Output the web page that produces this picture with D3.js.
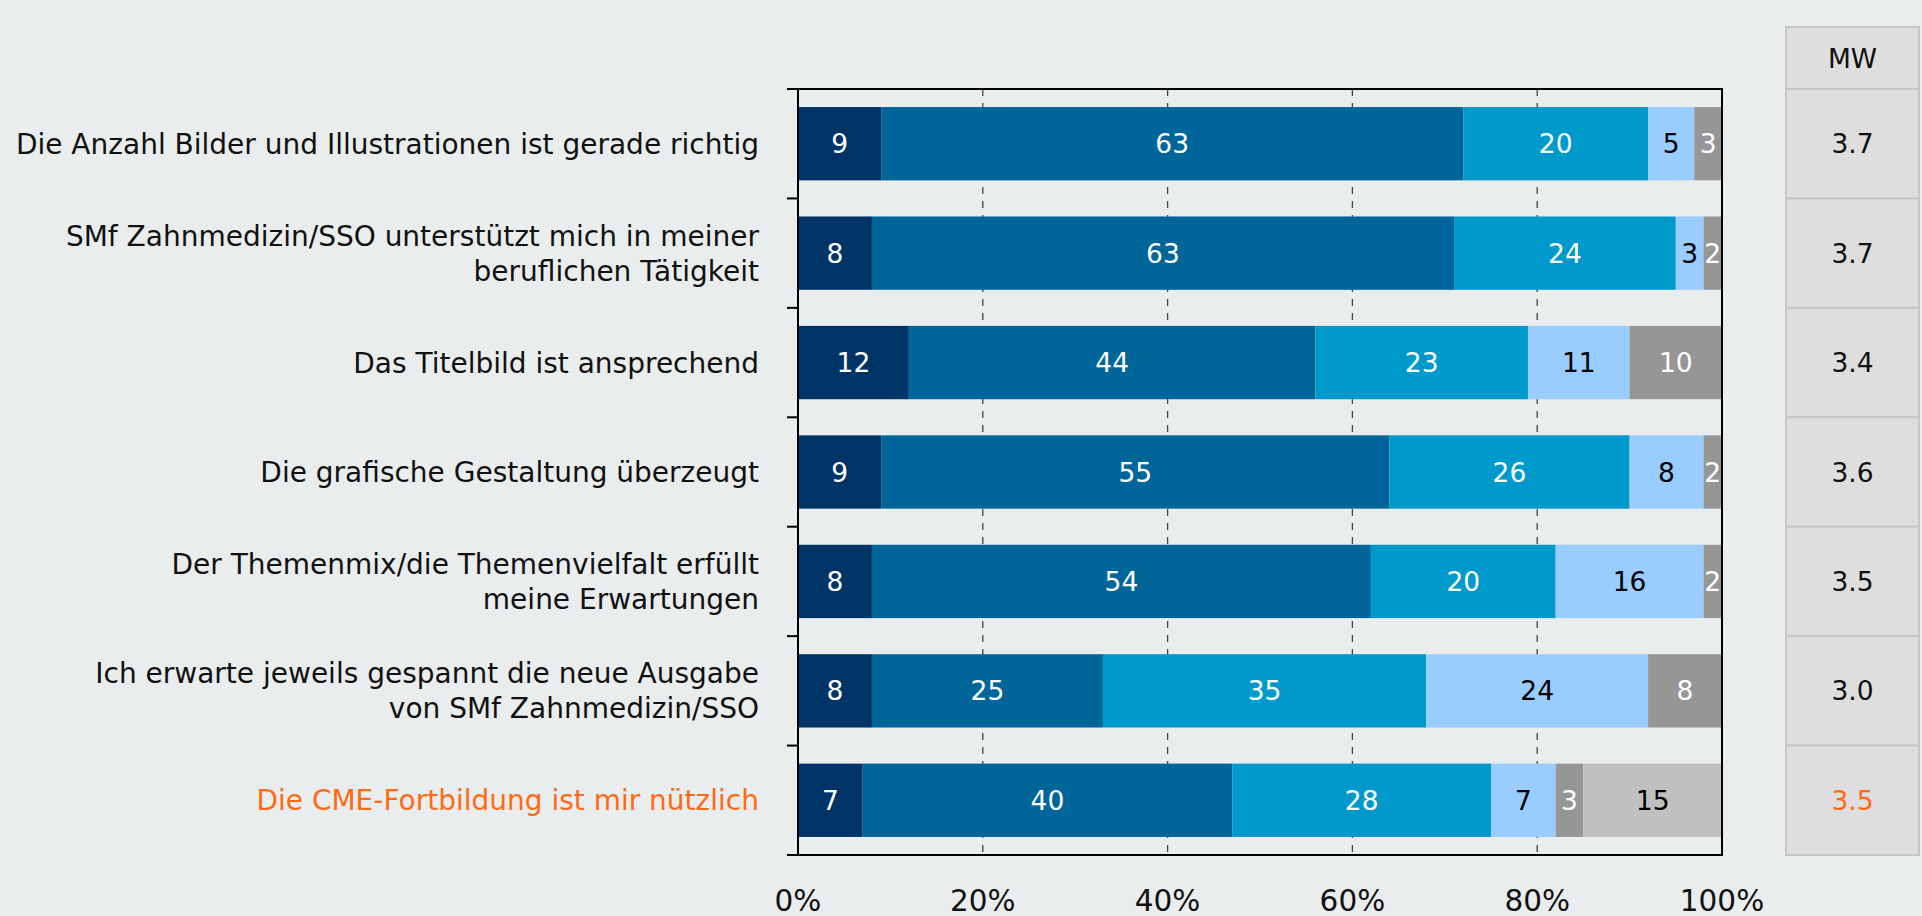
<!DOCTYPE html>
<html>
<head>
<meta charset="utf-8">
<script src="https://cdn.jsdelivr.net/npm/d3@7"></script>
<style>
  html, body { margin: 0; padding: 0; background: #e9eded; }
  svg text { font-family: "DejaVu Sans", Verdana, sans-serif; }
</style>
</head>
<body>
<div id="chart"></div>
<script>
// Data
var categories = [
  'Die Anzahl Bilder und Illustrationen ist gerade richtig',
  'SMf Zahnmedizin/SSO unterstützt mich in meiner|beruflichen Tätigkeit',
  'Das Titelbild ist ansprechend',
  'Die grafische Gestaltung überzeugt',
  'Der Themenmix/die Themenvielfalt erfüllt|meine Erwartungen',
  'Ich erwarte jeweils gespannt die neue Ausgabe|von SMf Zahnmedizin/SSO',
  'Die CME-Fortbildung ist mir nützlich'
];
var s1 = [9, 8, 12, 9, 8, 8, 7];
var s2 = [63, 63, 44, 55, 54, 25, 40];
var s3 = [20, 24, 23, 26, 20, 35, 28];
var s4 = [5, 3, 11, 8, 16, 24, 7];
var s5 = [3, 2, 10, 2, 2, 8, 3];
var s6 = [0, 0, 0, 0, 0, 0, 15];
var mwValues = ['3.7', '3.7', '3.4', '3.6', '3.5', '3.0', '3.5'];
var xTicks = [0, 20, 40, 60, 80, 100];
var highlight = 6;

var keys = ['s1', 's2', 's3', 's4', 's5', 's6'];
var colors = {s1: '#003366', s2: '#006699', s3: '#0099cc', s4: '#99ccff', s5: '#969696', s6: '#c0c0c0'};
var textColors = {s1: '#fff', s2: '#fff', s3: '#fff', s4: '#000', s5: '#fff', s6: '#000'};

var table = categories.map(function(c, i) {
  return {cat: c, s1: s1[i], s2: s2[i], s3: s3[i], s4: s4[i], s5: s5[i], s6: s6[i]};
});

// Layout
var svgWidth = 1922;
var svgHeight = 916;
var plot = {left: 798, right: 1722, top: 89, bottom: 855};
var fontSize = 26.5;
var labelSize = 28;

var svg = d3.select('#chart')
  .append('svg')
  .attr('width', svgWidth)
  .attr('height', svgHeight);

svg.append('rect')
  .attr('width', svgWidth)
  .attr('height', svgHeight)
  .attr('fill', '#e9eded');

var x = d3.scaleLinear()
  .domain([0, 100])
  .range([plot.left, plot.right]);

var y = d3.scaleBand()
  .domain(categories)
  .range([plot.top, plot.bottom])
  .paddingInner(0.33)
  .paddingOuter(0.165);

var step = y.step();
var bounds = d3.range(categories.length + 1).map(function(i) { return plot.top + i * step; });

// Gridlines
svg.append('g')
  .selectAll('line')
  .data(xTicks.filter(function(t) { return t > 0 && t < 100; }))
  .enter()
  .append('line')
  .attr('x1', function(d) { return x(d); })
  .attr('x2', function(d) { return x(d); })
  .attr('y1', plot.top)
  .attr('y2', plot.bottom)
  .attr('stroke', '#444')
  .attr('stroke-width', 1.3)
  .attr('stroke-dasharray', '7,7');

// Bars
var stacked = d3.stack().keys(keys)(table);

var layers = svg.append('g')
  .selectAll('g')
  .data(stacked)
  .enter()
  .append('g')
  .attr('fill', function(d) { return colors[d.key]; });

layers.selectAll('rect')
  .data(function(d) { return d; })
  .enter()
  .append('rect')
  .attr('x', function(d) { return x(d[0]); })
  .attr('y', function(d) { return y(d.data.cat); })
  .attr('width', function(d) { return x(d[1]) - x(d[0]); })
  .attr('height', y.bandwidth());

// Value labels
stacked.forEach(function(layer) {
  svg.append('g')
    .selectAll('text')
    .data(layer.filter(function(d) { return d[1] - d[0] > 0; }))
    .enter()
    .append('text')
    .attr('x', function(d) { return (x(d[0]) + x(d[1])) / 2; })
    .attr('y', function(d) { return y(d.data.cat) + y.bandwidth() / 2; })
    .attr('dy', '0.36em')
    .attr('text-anchor', 'middle')
    .attr('font-size', fontSize)
    .attr('fill', textColors[layer.key])
    .text(function(d) { return d[1] - d[0]; });
});

// Frame
svg.append('rect')
  .attr('x', plot.left)
  .attr('y', plot.top)
  .attr('width', plot.right - plot.left)
  .attr('height', plot.bottom - plot.top)
  .attr('fill', 'none')
  .attr('stroke', '#000')
  .attr('stroke-width', 2);

// Y ticks at band boundaries
svg.append('g')
  .selectAll('line')
  .data(bounds)
  .enter()
  .append('line')
  .attr('x1', plot.left - 11)
  .attr('x2', plot.left)
  .attr('y1', function(d) { return d; })
  .attr('y2', function(d) { return d; })
  .attr('stroke', '#000')
  .attr('stroke-width', 2);

// Category labels
var lineHeight = 35;
var catLabels = svg.append('g')
  .selectAll('text')
  .data(categories)
  .enter()
  .append('text')
  .attr('text-anchor', 'end')
  .attr('font-size', labelSize)
  .attr('fill', function(d, i) { return i === highlight ? '#ff6a13' : '#111'; });

catLabels.each(function(d) {
  var lines = d.split('|');
  var cy = y(d) + y.bandwidth() / 2;
  var t = d3.select(this);
  lines.forEach(function(line, j) {
    t.append('tspan')
      .attr('x', 759)
      .attr('y', cy + (j - (lines.length - 1) / 2) * lineHeight)
      .attr('dy', '0.36em')
      .text(line);
  });
});

// X tick labels
svg.append('g')
  .selectAll('text')
  .data(xTicks)
  .enter()
  .append('text')
  .attr('x', function(d) { return x(d); })
  .attr('y', 911)
  .attr('text-anchor', 'middle')
  .attr('font-size', 29.5)
  .attr('fill', '#111')
  .text(function(d) { return d + '%'; });

// MW column
var mwX = 1786;
var mwW = 133;

svg.append('rect')
  .attr('x', mwX)
  .attr('y', 27)
  .attr('width', mwW)
  .attr('height', plot.top - 27)
  .attr('fill', '#dedede')
  .attr('stroke', '#c6c6c6')
  .attr('stroke-width', 2);

svg.append('text')
  .attr('x', mwX + mwW / 2)
  .attr('y', (27 + plot.top) / 2)
  .attr('dy', '0.36em')
  .attr('text-anchor', 'middle')
  .attr('font-size', fontSize)
  .attr('fill', '#111')
  .text('MW');

svg.append('g')
  .selectAll('rect')
  .data(mwValues)
  .enter()
  .append('rect')
  .attr('x', mwX)
  .attr('y', function(d, i) { return bounds[i]; })
  .attr('width', mwW)
  .attr('height', step)
  .attr('fill', '#dedede')
  .attr('stroke', '#c6c6c6')
  .attr('stroke-width', 2);

svg.append('g')
  .selectAll('text')
  .data(mwValues)
  .enter()
  .append('text')
  .attr('x', mwX + mwW / 2)
  .attr('y', function(d, i) { return bounds[i] + step / 2; })
  .attr('dy', '0.36em')
  .attr('text-anchor', 'middle')
  .attr('font-size', fontSize)
  .attr('fill', function(d, i) { return i === highlight ? '#ff6a13' : '#111'; })
  .text(function(d) { return d; });
</script>
</body>
</html>
